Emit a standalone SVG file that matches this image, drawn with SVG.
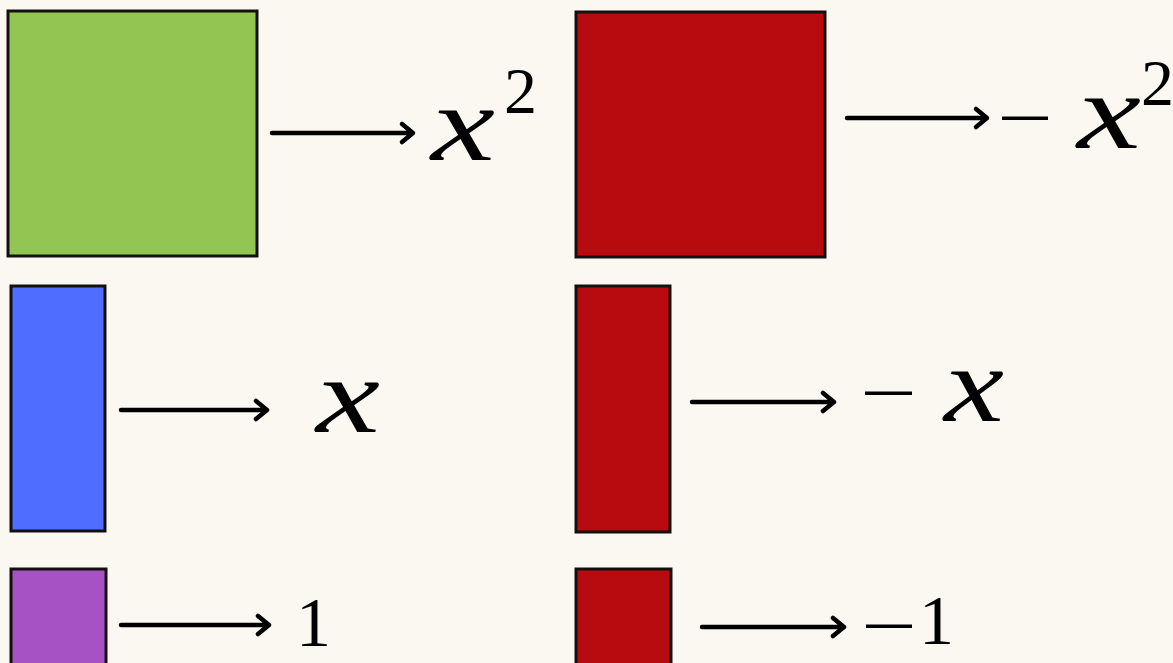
<svg xmlns="http://www.w3.org/2000/svg" width="1173" height="663" viewBox="0 0 1173 663">
<style>
.tile{stroke:#151010;stroke-width:3}
.arr{fill:none;stroke:#000;stroke-width:4.5;stroke-linecap:round;stroke-linejoin:round}
.var{font-family:"Liberation Serif",serif;font-style:italic;font-size:108px;fill:#000}
.num{font-family:"Liberation Serif",serif;font-size:70px;fill:#000}
.sup{font-family:"Liberation Serif",serif;font-size:66px;fill:#000}
</style>
<rect width="1173" height="663" fill="#FBF8F2"/>
<g id="green-square"><rect class="tile" x="8" y="11" width="249" height="245" fill="#93C552"/></g>
<g id="red-square"><rect class="tile" x="576" y="12" width="249" height="245" fill="#B80B10"/></g>
<g id="blue-rect"><rect class="tile" x="11" y="286" width="94" height="245" fill="#4F6EFF"/></g>
<g id="red-rect"><rect class="tile" x="576" y="286" width="94" height="246" fill="#B80B10"/></g>
<g id="purple-unit"><rect class="tile" x="11" y="569" width="95" height="100" fill="#A652C4"/></g>
<g id="red-unit"><rect class="tile" x="576" y="569" width="95" height="100" fill="#B80B10"/></g>
<g id="connectors">
<path class="arr" d="M272 133H412M402 124L413 133L402 142"/>
<path class="arr" d="M847 118H986M976 109L987 118L976 127"/>
<path class="arr" d="M121 410H266M256 401L267 410L256 419"/>
<path class="arr" d="M692 402H833M823 393L834 402L823 411"/>
<path class="arr" d="M121 625H268M258 616L269 625L258 634"/>
<path class="arr" d="M702 627H843M833 618L844 627L833 636"/>
</g>
<g id="labels">
<text class="var" x="431" y="160" textLength="64" lengthAdjust="spacingAndGlyphs">x</text>
<text class="sup" x="504" y="113">2</text>
<rect x="1002" y="116.5" width="46" height="3.5" fill="#000"/>
<text class="var" x="1077" y="148" textLength="64" lengthAdjust="spacingAndGlyphs">x</text>
<text class="sup" x="1141" y="105">2</text>
<text class="var" x="316" y="432" textLength="64" lengthAdjust="spacingAndGlyphs">x</text>
<rect x="865" y="391.5" width="47" height="3.5" fill="#000"/>
<text class="var" x="944" y="421" textLength="60" lengthAdjust="spacingAndGlyphs">x</text>
<text class="num" x="296" y="646">1</text>
<rect x="866" y="624.5" width="46" height="3.5" fill="#000"/>
<text class="num" x="919" y="644">1</text>
</g>
</svg>
